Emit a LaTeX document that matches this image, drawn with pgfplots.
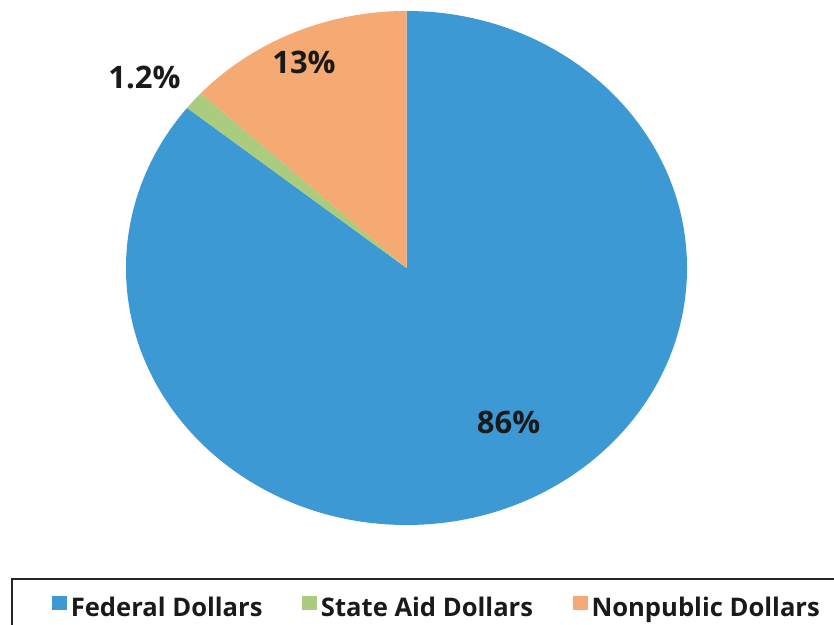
\documentclass[border=0pt]{standalone}
\usepackage{fontspec}
\setmainfont{Open Sans}
\usepackage{pgfplots}
\usepackage{pgfplotstable}
\pgfplotsset{compat=1.18}

\definecolor{pieblue}{HTML}{3D99D3}
\definecolor{piegreen}{HTML}{A9CC7F}
\definecolor{pieorange}{HTML}{F4AA72}
\definecolor{labeltext}{HTML}{1A1A1A}

% share of dollars, in percent, clockwise from the top
\pgfplotstableread{
share colour
85.7 pieblue
1.2 piegreen
13.1 pieorange
}\piedata

\begin{document}
\begin{tikzpicture}
\begin{axis}[
  scale only axis,
  width=417pt, height=312.5pt,
  xmin=0, xmax=834, ymin=0, ymax=625,
  hide axis, clip=false,
  legend columns=3,
  legend style={draw=none, fill=none, inner sep=0pt, outer sep=0pt,
    at={(axis cs:52,16.5)}, anchor=west,
    font=\bfseries\fontsize{12.8}{15}\selectfont, text=labeltext,
    /tikz/every even column/.append style={column sep=17.8pt}},
  legend image code/.code={\fill[#1] (0pt,-0.25pt) rectangle (7pt,6.25pt);},
]
\coordinate (bbsw) at (axis cs:0,0);
\coordinate (bbne) at (axis cs:834,625);

% slices
\gdef\pieangle{90}
\foreach \row in {0,1,2}{
  \pgfplotstablegetelem{\row}{share}\of\piedata \let\share\pgfplotsretval
  \pgfplotstablegetelem{\row}{colour}\of\piedata \let\col\pgfplotsretval
  \pgfmathsetmacro\endangle{\pieangle-3.6*\share}
  \edef\doslice{\noexpand\fill[fill=\col] (axis cs:406.5,357) -- ++(\pieangle:140.25pt and 128.5pt)
    arc[start angle=\pieangle, end angle=\endangle, x radius=140.25pt, y radius=128.5pt] -- cycle;}
  \doslice
  \xdef\pieangle{\endangle}
}

\node[anchor=base, font=\bfseries\fontsize{15.5}{18}\selectfont, text=labeltext] at (axis cs:508.5,191) {86\%};
\node[anchor=base, font=\bfseries\fontsize{15.5}{18}\selectfont, text=labeltext] at (axis cs:304,551) {13\%};
\node[anchor=base, font=\bfseries\fontsize{15.5}{18}\selectfont, text=labeltext] at (axis cs:144.5,536) {1.2\%};

% legend frame
\draw[line width=0.85pt, draw=black!85] (axis cs:12,46) rectangle (axis cs:870,-20);

\addlegendimage{pieblue}
\addlegendentry{Federal Dollars}
\addlegendimage{piegreen}
\addlegendentry{State Aid Dollars}
\addlegendimage{pieorange}
\addlegendentry{Nonpublic Dollars}
\end{axis}
\pgfresetboundingbox
\useasboundingbox (bbsw) rectangle (bbne);
\end{tikzpicture}
\end{document}
